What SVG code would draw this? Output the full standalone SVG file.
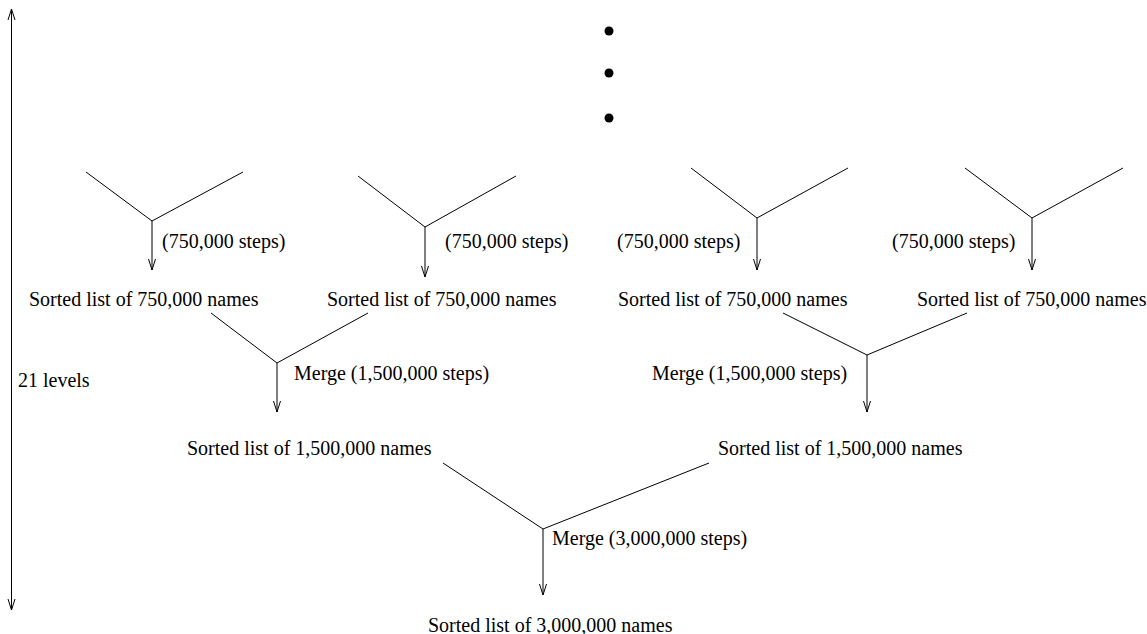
<svg xmlns="http://www.w3.org/2000/svg" width="1147" height="634" viewBox="0 0 1147 634">
<style>
text{font-family:"Liberation Serif","Times New Roman",serif;font-size:20px;fill:#000}
.ln{stroke:#000;stroke-width:1;fill:none}
.ar{stroke:#000;stroke-width:1;fill:none;marker-end:url(#ah)}
</style>
<defs>
<marker id="ah" markerUnits="userSpaceOnUse" markerWidth="12" markerHeight="12" viewBox="-11 -6 12 12" refX="0" refY="0" orient="auto">
<path d="M-11,-3.5 L0,0 L-11,3.5" fill="none" stroke="#000" stroke-width="1"/>
</marker>
<marker id="ahs" markerUnits="userSpaceOnUse" markerWidth="12" markerHeight="12" viewBox="-11 -6 12 12" refX="0" refY="0" orient="auto-start-reverse">
<path d="M-11,-3.5 L0,0 L-11,3.5" fill="none" stroke="#000" stroke-width="1"/>
</marker>
</defs>
<rect width="1147" height="634" fill="#fff"/>
<g id="connectors">
<line class="ln" x1="11.5" y1="9" x2="11.5" y2="610" marker-start="url(#ahs)" marker-end="url(#ahs)"/>
<polyline class="ln" points="86,172 152,221 243,172"/>
<line class="ar" x1="152" y1="221" x2="152" y2="270"/>
<polyline class="ln" points="358,176 425,227 516,176"/>
<line class="ar" x1="425" y1="227" x2="425" y2="277"/>
<polyline class="ln" points="691,168 757,218 848,168"/>
<line class="ar" x1="757" y1="218" x2="757" y2="270"/>
<polyline class="ln" points="965,168 1032,218 1123,168"/>
<line class="ar" x1="1032" y1="218" x2="1032" y2="270"/>
<polyline class="ln" points="211,313 277,363 368,313"/>
<line class="ar" x1="277" y1="363" x2="277" y2="412"/>
<polyline class="ln" points="783,313 867,355 967,313"/>
<line class="ar" x1="867" y1="355" x2="867" y2="412"/>
<polyline class="ln" points="443,463 543,529 709,463"/>
<line class="ar" x1="543" y1="529" x2="543" y2="595"/>
</g>
<g id="dots">
<circle cx="609" cy="31" r="4.5"/>
<circle cx="609" cy="73" r="4.5"/>
<circle cx="609" cy="118" r="4.5"/>
</g>
<g id="levels"><text x="18" y="387">21 levels</text></g>
<g id="step1"><text x="162" y="248">(750,000 steps)</text></g>
<g id="step2"><text x="445" y="248">(750,000 steps)</text></g>
<g id="step3"><text x="617" y="248">(750,000 steps)</text></g>
<g id="step4"><text x="892" y="248">(750,000 steps)</text></g>
<g id="list1"><text x="29" y="306">Sorted list of 750,000 names</text></g>
<g id="list2"><text x="327" y="306">Sorted list of 750,000 names</text></g>
<g id="list3"><text x="618" y="306">Sorted list of 750,000 names</text></g>
<g id="list4"><text x="917" y="306">Sorted list of 750,000 names</text></g>
<g id="merge1"><text x="294" y="380">Merge (1,500,000 steps)</text></g>
<g id="merge2"><text x="652" y="380">Merge (1,500,000 steps)</text></g>
<g id="list5"><text x="187" y="455">Sorted list of 1,500,000 names</text></g>
<g id="list6"><text x="718" y="455">Sorted list of 1,500,000 names</text></g>
<g id="merge3"><text x="552" y="545">Merge (3,000,000 steps)</text></g>
<g id="list7"><text x="428" y="632">Sorted list of 3,000,000 names</text></g>
</svg>
